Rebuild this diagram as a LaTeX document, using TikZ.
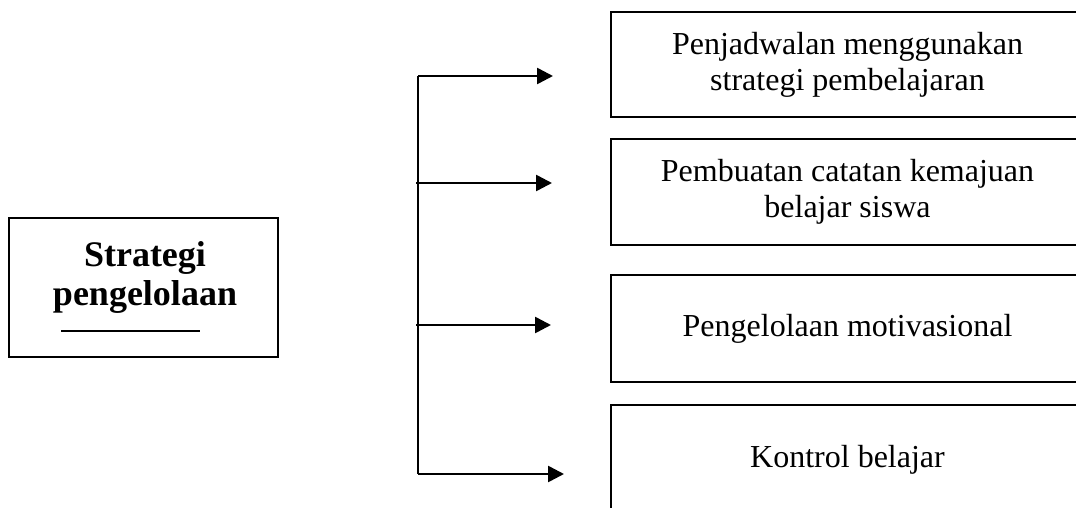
\documentclass[tikz,border=0pt]{standalone}
\usepackage{fontspec}
\setmainfont{Liberation Serif}
\usetikzlibrary{arrows.meta}

\begin{document}
\begin{tikzpicture}[
        x=0.5pt, y=-0.5pt,
        >={Triangle[length=8pt,width=8pt]},
        kotak/.style={draw, line width=1.3pt, minimum width=236.5pt, inner sep=0pt,
        	font={\fontsize{16}{18}\selectfont}, align=center},
        judul/.style={font={\fontsize{18}{19.5}\selectfont\bfseries}, align=center},
        panah/.style={->, line width=1.3pt}
    ]

    \useasboundingbox (0,0) rectangle (1076,508);

    %Box on the left
    \node[draw, line width=1.3pt, minimum width=134.5pt, minimum height=69.5pt] (strategi) at (143.5,287.5) {};
    \node[judul] (judulstrategi) at (145,277) {Strategi\\pengelolaan};
    \draw[line width=1.3pt] (61,331) -- (200,331);

    %Boxes on the right
    \node[kotak, minimum height=52.5pt] (jadwal) at (847.5,64.5) {Penjadwalan menggunakan\\strategi pembelajaran};
    \node[kotak, minimum height=53pt] (catatan) at (847.5,192) {Pembuatan catatan kemajuan\\belajar siswa};
    \node[kotak, minimum height=53.5pt] (motivasi) at (847.5,328.5) {Pengelolaan motivasional};
    \node[kotak, minimum height=55pt] (kontrol) at (847.5,460) {Kontrol belajar};

    %Arrows
    \coordinate (atas) at (418,76);
    \coordinate (bawah) at (418,474);
    \coordinate (cab2) at (416,183);
    \coordinate (cab3) at (416,325);
    \coordinate (ujung1) at (553,76);
    \coordinate (ujung2) at (552,183);
    \coordinate (ujung3) at (551,325);
    \coordinate (ujung4) at (564,474);

    \draw[line width=1.3pt] (atas) -- (bawah);
    \draw[panah] (atas) -- (ujung1);
    \draw[panah] (cab2) -- (ujung2);
    \draw[panah] (cab3) -- (ujung3);
    \draw[panah] (bawah) -- (ujung4);
\end{tikzpicture}
\end{document}
